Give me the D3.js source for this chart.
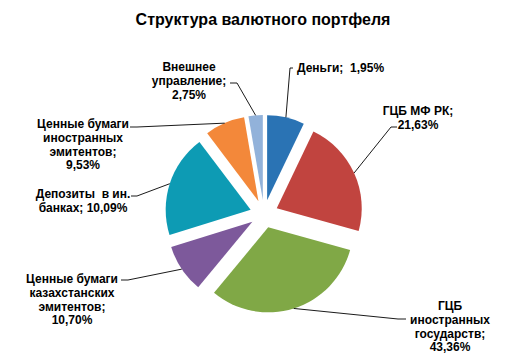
<!DOCTYPE html>
<html><head><meta charset="utf-8">
<script src="https://cdn.jsdelivr.net/npm/d3@7"></script>
<style>
html,body{margin:0;padding:0;background:#fff;}
text{font-family:"Liberation Sans",Arial,sans-serif;font-weight:bold;fill:#000;}
</style></head>
<body><svg id="c" width="520" height="356"></svg>
<script>
// ---- data ----
const categories = ["Деньги","ГЦБ МФ РК","ГЦБ иностранных государств","Ценные бумаги казахстанских эмитентов","Депозиты в ин. банках","Ценные бумаги иностранных эмитентов","Внешнее управление"];
// slice shares as drawn in the picture (angles measured), %
const sliceShares = [7.1, 22.2, 31.7, 9.2, 19.5, 7.6, 2.7];
// percentages printed in the labels
const labelPercents = ["1,95%","21,63%","43,36%","10,70%","10,09%","9,53%","2,75%"];
const labelLines = [
  ["Деньги;  1,95%"],
  ["ГЦБ МФ РК;","21,63%"],
  ["ГЦБ","иностранных","государств;","43,36%"],
  ["Ценные бумаги","казахстанских","эмитентов;","10,70%"],
  ["Депозиты  в ин.","банках; 10,09%"],
  ["Ценные бумаги","иностранных","эмитентов;","9,53%"],
  ["Внешнее","управление;","2,75%"]
];
const colors = ["#2a73b4","#c1443f","#80a846","#7d599b","#0d9bb4","#f3883a","#92b2da"];

// ---- layout ----
const W=520,H=356, cx=264, cy=214, R=85, explode=14;
const labelLayout = [
  {x:297, y:72, anchor:"start", elbow:[290,68], end:[293,68]},
  {x:418, y:115, anchor:"middle", elbow:[391,127], end:[397,127]},
  {x:450, y:310, anchor:"middle", elbow:[398,319], end:[406,319]},
  {x:72, y:283, anchor:"middle", elbow:[128,280], end:[121,280]},
  {x:83, y:198, anchor:"middle", elbow:[137,196], end:[131,196]},
  {x:83, y:128, anchor:"middle", elbow:[137,127], end:[130,127]},
  {x:189, y:71, anchor:"middle", elbow:[237,83], end:[230,83]}
];
const lineH = 13.8;

const svg = d3.select("#c");
svg.append("text").attr("x",263).attr("y",25).attr("text-anchor","middle")
  .style("font-size","16px").text("Структура валютного портфеля");

const pie = d3.pie().sort(null).value(d=>d)(sliceShares);
const arc = d3.arc().innerRadius(0).outerRadius(R);
const edge = d3.arc().innerRadius(R).outerRadius(R);

const g = svg.append("g").attr("transform",`translate(${cx},${cy})`);
pie.forEach((p,i)=>{
  const mid=(p.startAngle+p.endAngle)/2;
  const ox=Math.sin(mid)*explode, oy=-Math.cos(mid)*explode;
  g.append("path").attr("d",arc(p)).attr("fill",colors[i])
    .attr("transform",`translate(${ox},${oy})`);
  const c=edge.centroid(p);
  const sx=cx+ox+c[0], sy=cy+oy+c[1];
  const L=labelLayout[i];
  svg.append("polyline")
    .attr("points",[[sx,sy],L.elbow,L.end].map(q=>q.join(",")).join(" "))
    .attr("fill","none").attr("stroke","#000").attr("stroke-width",0.9);
  const t=svg.append("text").attr("text-anchor",L.anchor).style("font-size","12px")
    .attr("xml:space","preserve").style("white-space","pre");
  labelLines[i].forEach((s,k)=>{
    t.append("tspan").attr("x",L.x).attr("y",L.y+k*lineH).text(s);
  });
});
</script></body></html>
